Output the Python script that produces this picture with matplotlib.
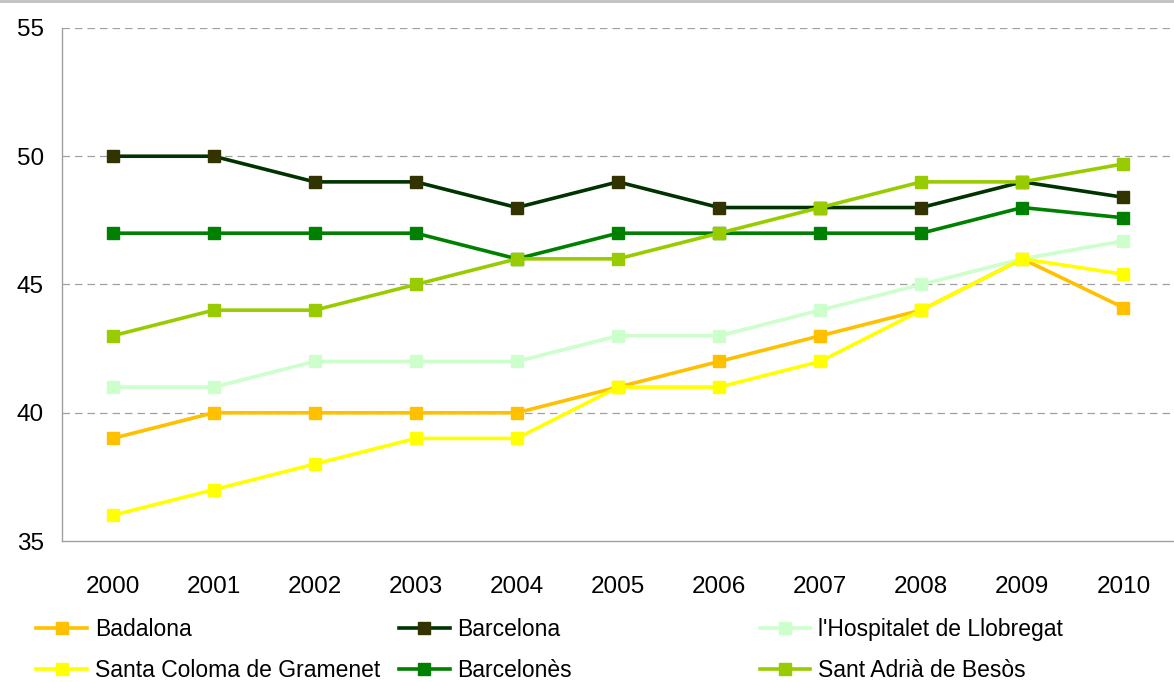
import matplotlib.pyplot as plt
from matplotlib.lines import Line2D

plt.rcParams['font.family'] = ['Liberation Sans', 'DejaVu Sans']

years = [2000, 2001, 2002, 2003, 2004, 2005, 2006, 2007, 2008, 2009, 2010]

badalona = [39, 40, 40, 40, 40, 41, 42, 43, 44, 46, 44.1]
barcelona = [50, 50, 49, 49, 48, 49, 48, 48, 48, 49, 48.4]
hospitalet = [41, 41, 42, 42, 42, 43, 43, 44, 45, 46, 46.7]
santa_coloma = [36, 37, 38, 39, 39, 41, 41, 42, 44, 46, 45.4]
barcelones = [47, 47, 47, 47, 46, 47, 47, 47, 47, 48, 47.6]
sant_adria = [43, 44, 44, 45, 46, 46, 47, 48, 49, 49, 49.7]

names = ["Badalona", "Barcelona", "l'Hospitalet de Llobregat",
         "Santa Coloma de Gramenet", "Barcelonès", "Sant Adrià de Besòs"]
series = [badalona, barcelona, hospitalet, santa_coloma, barcelones, sant_adria]
line_colors = ['#FFC000', '#003300', '#CCFFCC', '#FFFF00', '#008000', '#99CC00']
marker_colors = ['#FFC000', '#333300', '#CCFFCC', '#FFFF00', '#008000', '#99CC00']

fig = plt.figure(figsize=(11.74, 6.82), dpi=100)
ax = fig.add_axes([0.0528, 0.2067, 0.9472, 0.7523])

handles = []
for vals, name, lc, mc in zip(series, names, line_colors, marker_colors):
    h, = ax.plot(range(len(years)), vals, color=lc, lw=2.6, marker='s',
                 markersize=9, markerfacecolor=mc, markeredgecolor=mc,
                 label=name)
    handles.append(h)

ax.set_xlim(-0.5, len(years) - 0.5)
ax.set_ylim(35, 55)
ax.set_yticks([35, 40, 45, 50, 55])
ax.set_xticks(range(len(years)))
ax.set_xticklabels([str(y) for y in years])
ax.tick_params(axis='both', length=0, labelsize=17.5)
ax.tick_params(axis='x', pad=25)
ax.tick_params(axis='y', pad=13)

for v in [40, 45, 50, 55]:
    ax.axhline(v, color='#A0A0A0', lw=0.9, ls=(0, (6, 4)), zorder=0)

for s in ['top', 'right']:
    ax.spines[s].set_visible(False)
for s in ['left', 'bottom']:
    ax.spines[s].set_color('#A0A0A0')
    ax.spines[s].set_linewidth(1.0)

# thin grey band at the top (cut-off title area)
fig.add_artist(Line2D([0, 1], [0.998, 0.998], color='#C0C0C0', lw=2,
                      transform=fig.transFigure))

# legend in three fixed columns, like Excel
cols = [(0, 3), (1, 4), (2, 5)]
xpos = [0.031, 0.340, 0.647]
for (a, b), x in zip(cols, xpos):
    leg = fig.legend([handles[a], handles[b]], [names[a], names[b]],
                     loc='upper left', bbox_to_anchor=(x, 0.094),
                     frameon=False, fontsize=16.5, handlelength=2.2,
                     handletextpad=0.35, labelspacing=0.8,
                     borderaxespad=0, borderpad=0)

fig.savefig('out.png', dpi=100)
